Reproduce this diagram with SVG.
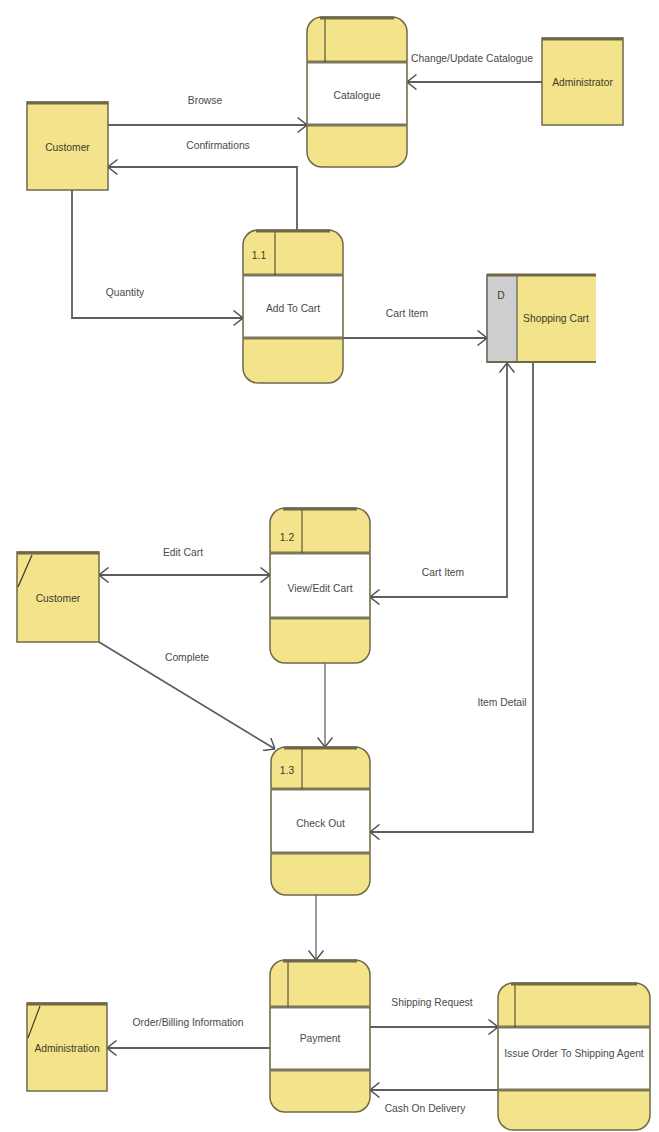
<svg xmlns="http://www.w3.org/2000/svg" width="659" height="1132" viewBox="0 0 659 1132">
<defs>
<style>
text{font-family:"Liberation Sans",Arial,sans-serif;font-size:10.3px;fill:#4a4a4a;text-anchor:middle}
.ent{fill:#f3e48c;stroke:#6e6849;stroke-width:1.5}
.etop{stroke:#6e6849;stroke-width:3}
.proc{fill:#f3e48c;stroke:#6e6849;stroke-width:1.5}
.mid{fill:#ffffff;stroke:none}
.band{stroke:#7d775a;stroke-width:3}
.div{stroke:#3d3a2a;stroke-width:1}
.nt{fill:#3e3b28}
.flow{fill:none;stroke:#5e5e5e;stroke-width:1.8}
.thin{fill:none;stroke:#555;stroke-width:1.2}
</style>
<marker id="ah" viewBox="0 0 10 16" refX="10" refY="8" markerWidth="10" markerHeight="16" markerUnits="userSpaceOnUse" orient="auto-start-reverse">
<path d="M0.5,0.5 L10,8 L0.5,15.5" fill="none" stroke="#4e4e4e" stroke-width="1.4"/>
</marker>
</defs>
<rect width="659" height="1132" fill="#ffffff"/>

<g id="connectors">
<path class="flow" d="M108,125 H307" marker-end="url(#ah)"/>
<path class="flow" d="M297,230 V167 H108" marker-end="url(#ah)"/>
<path class="flow" d="M542,82 H407" marker-end="url(#ah)"/>
<path class="flow" d="M72,190 V318 H243" marker-end="url(#ah)"/>
<path class="flow" d="M343,338 H487" marker-end="url(#ah)"/>
<path class="flow" d="M507,363 V597 H370" marker-start="url(#ah)" marker-end="url(#ah)"/>
<path class="flow" d="M99,575 H270" marker-start="url(#ah)" marker-end="url(#ah)"/>
<path class="flow" d="M99,642 L275,749" marker-end="url(#ah)"/>
<path class="thin" d="M325,663 V747" marker-end="url(#ah)"/>
<path class="flow" d="M533,363 V832 H370" marker-end="url(#ah)"/>
<path class="thin" d="M316,895 V960" marker-end="url(#ah)"/>
<path class="flow" d="M270,1048 H107" marker-end="url(#ah)"/>
<path class="flow" d="M370,1027 H498" marker-end="url(#ah)"/>
<path class="flow" d="M498,1090 H370" marker-end="url(#ah)"/>
<text x="205" y="104">Browse</text>
<text x="218" y="149">Confirmations</text>
<text x="472" y="62">Change/Update Catalogue</text>
<text x="125" y="296">Quantity</text>
<text x="407" y="317">Cart Item</text>
<text x="443" y="576">Cart Item</text>
<text x="183" y="556">Edit Cart</text>
<text x="187" y="661">Complete</text>
<text x="502" y="706">Item Detail</text>
<text x="188" y="1026">Order/Billing Information</text>
<text x="432" y="1006">Shipping Request</text>
<text x="425" y="1112">Cash On Delivery</text>
</g>

<g id="customer1">
<rect class="ent" x="27" y="102" width="81" height="88"/>
<line class="etop" x1="27" y1="103" x2="108" y2="103"/>
<text class="nt" x="67.5" y="151">Customer</text>
</g>

<g id="administrator">
<rect class="ent" x="542" y="38" width="81" height="87"/>
<line class="etop" x1="542" y1="39" x2="623" y2="39"/>
<text class="nt" x="582.5" y="86">Administrator</text>
</g>

<g id="catalogue">
<rect class="proc" x="307" y="17" width="100" height="150" rx="15"/>
<rect class="mid" x="308" y="62" width="98" height="63"/>
<line class="band" x1="307" y1="62" x2="407" y2="62"/>
<line class="band" x1="307" y1="125" x2="407" y2="125"/>
<line class="div" x1="325" y1="17" x2="325" y2="62"/>
<line class="etop" x1="320" y1="18" x2="394" y2="18"/>
<text x="357" y="99">Catalogue</text>
</g>

<g id="add-to-cart">
<rect class="proc" x="243" y="230" width="100" height="153" rx="15"/>
<rect class="mid" x="244" y="275" width="98" height="63"/>
<line class="band" x1="243" y1="275" x2="343" y2="275"/>
<line class="band" x1="243" y1="338" x2="343" y2="338"/>
<line class="div" x1="275" y1="230" x2="275" y2="275"/>
<line class="etop" x1="256" y1="231" x2="330" y2="231"/>
<text class="nt" x="259" y="259">1.1</text>
<text x="293" y="312">Add To Cart</text>
</g>

<g id="shopping-cart">
<rect x="487" y="274" width="109" height="89" fill="#f3e48c"/>
<rect x="487" y="274" width="30" height="89" fill="#cfcfcf"/>
<line x1="487" y1="274" x2="487" y2="363" stroke="#5e5e5e" stroke-width="1.5"/>
<line x1="517" y1="274" x2="517" y2="363" stroke="#5e5e5e" stroke-width="1.2"/>
<line x1="487" y1="275" x2="596" y2="275" stroke="#6e6849" stroke-width="3"/>
<line x1="487" y1="362" x2="596" y2="362" stroke="#6e6849" stroke-width="2"/>
<text class="nt" x="501" y="299">D</text>
<text class="nt" x="556" y="322">Shopping Cart</text>
</g>

<g id="customer2">
<rect class="ent" x="17" y="552" width="82" height="90"/>
<line class="etop" x1="17" y1="553" x2="99" y2="553"/>
<line x1="18" y1="587" x2="32" y2="555" stroke="#3d3a2a" stroke-width="1.2"/>
<text class="nt" x="58" y="602">Customer</text>
</g>

<g id="view-edit-cart">
<rect class="proc" x="270" y="508" width="100" height="155" rx="15"/>
<rect class="mid" x="271" y="553" width="98" height="65"/>
<line class="band" x1="270" y1="553" x2="370" y2="553"/>
<line class="band" x1="270" y1="618" x2="370" y2="618"/>
<line class="div" x1="302" y1="508" x2="302" y2="553"/>
<line class="etop" x1="283" y1="509" x2="357" y2="509"/>
<text class="nt" x="287" y="541">1.2</text>
<text x="320" y="592">View/Edit Cart</text>
</g>

<g id="check-out">
<rect class="proc" x="271" y="747" width="99" height="148" rx="15"/>
<rect class="mid" x="272" y="789" width="97" height="64"/>
<line class="band" x1="271" y1="789" x2="370" y2="789"/>
<line class="band" x1="271" y1="853" x2="370" y2="853"/>
<line class="div" x1="302" y1="747" x2="302" y2="789"/>
<line class="etop" x1="284" y1="748" x2="357" y2="748"/>
<text class="nt" x="287" y="774">1.3</text>
<text x="320.5" y="827">Check Out</text>
</g>

<g id="payment">
<rect class="proc" x="270" y="960" width="100" height="152" rx="15"/>
<rect class="mid" x="271" y="1007" width="98" height="63"/>
<line class="band" x1="270" y1="1007" x2="370" y2="1007"/>
<line class="band" x1="270" y1="1070" x2="370" y2="1070"/>
<line class="div" x1="288" y1="960" x2="288" y2="1007"/>
<line class="etop" x1="283" y1="961" x2="357" y2="961"/>
<text x="320" y="1042">Payment</text>
</g>

<g id="issue-order">
<rect class="proc" x="498" y="983" width="152" height="147" rx="15"/>
<rect class="mid" x="499" y="1027" width="150" height="63"/>
<line class="band" x1="498" y1="1027" x2="650" y2="1027"/>
<line class="band" x1="498" y1="1090" x2="650" y2="1090"/>
<line class="div" x1="515" y1="983" x2="515" y2="1027"/>
<line class="etop" x1="511" y1="984" x2="637" y2="984"/>
<text x="574" y="1057">Issue Order To Shipping Agent</text>
</g>

<g id="administration">
<rect class="ent" x="27" y="1003" width="80" height="88"/>
<line class="etop" x1="27" y1="1004" x2="107" y2="1004"/>
<line x1="28" y1="1038" x2="40" y2="1006" stroke="#3d3a2a" stroke-width="1.2"/>
<text class="nt" x="67" y="1052">Administration</text>
</g>
</svg>
